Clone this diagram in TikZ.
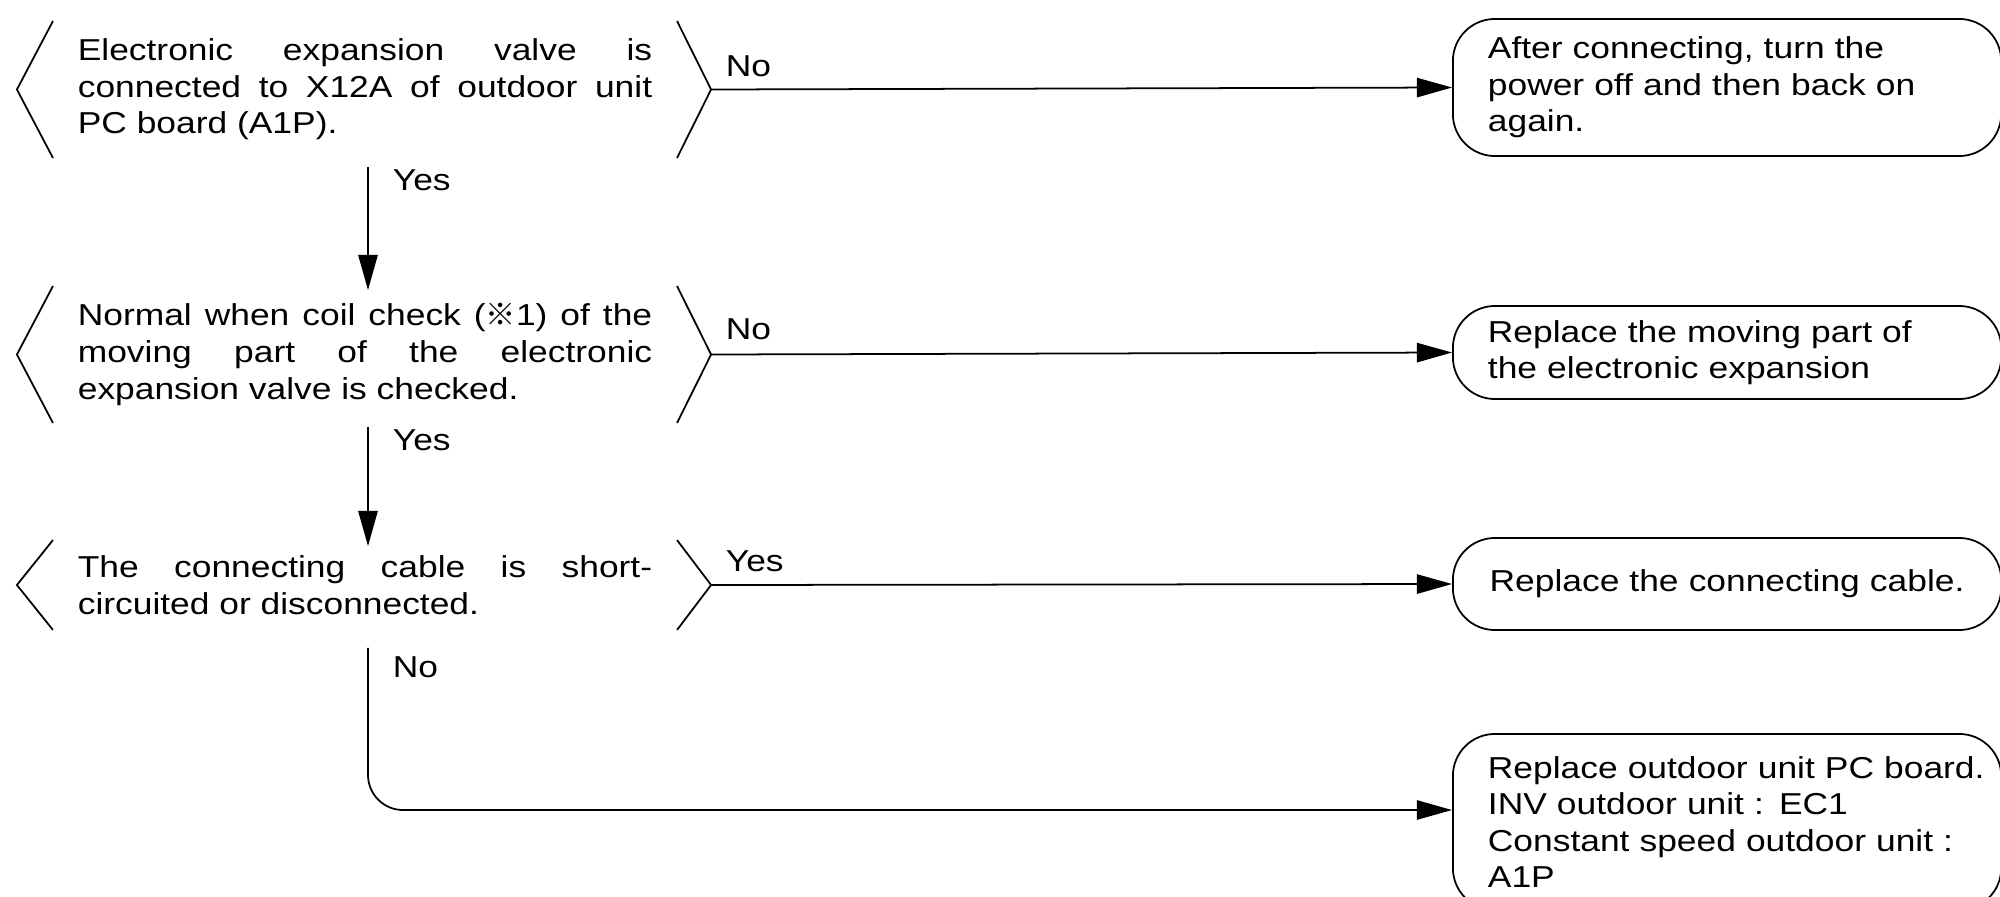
\documentclass[tikz,border=0pt]{standalone}
\usepackage{fontspec}
\setmainfont{Liberation Sans}[FakeStretch=1.17]
\newfontfamily\cjk{Noto Sans CJK JP}
\usetikzlibrary{arrows.meta}
\hbadness=10000

%% open brackets on both sides of a question node
\newcommand\brackets[1]{%
  \draw ([xshift=-0.24cm]#1.north west) -- ([xshift=-0.6cm]#1.west)
     -- ([xshift=-0.24cm]#1.south west);
  \draw ([xshift=0.24cm]#1.north east) -- ([xshift=0.58cm]#1.east)
     coordinate (#1-tip) -- ([xshift=0.24cm]#1.south east);}

\begin{document}
\begin{tikzpicture}[x=0.01cm,y=-0.01cm,line width=0.5pt,
  >={Triangle[length=10pt,width=5.5pt]},
  every node/.style={font=\fontsize{8.6}{10.4}\selectfont},
  query/.style={text width=5.74cm,align=justify,inner sep=0pt,
    minimum height=#1},
  outcome/.style={draw,rounded corners=0.42cm,anchor=west,
    minimum width=5.48cm,inner xsep=0.35cm,text width=4.78cm,
    minimum height=#1,align=left},
  tag/.style={anchor=west,inner sep=0pt}]
\useasboundingbox (0,0) rectangle (2000,897);

%% ---------------- questions ----------------
\node[query=1.35cm] (valve) at (365,89.5)
  {Electronic expansion valve is\linebreak connected to X12A of outdoor
   unit\linebreak PC board (A1P).};
\brackets{valve}
\node[query=1.35cm] (coil) at (365,354.5)
  {Normal when coil check ({\cjk ※}1) of the\linebreak moving part of the
   electronic\linebreak expansion valve is checked.};
\brackets{coil}
\node[query=0.88cm] (cable) at (365,585)
  {The connecting cable is short-\linebreak circuited or disconnected.};
\brackets{cable}

%% ---------------- remedies ----------------
\node[outcome=1.37cm] (reboot) at (1452,87.5)
  {After connecting, turn the\\ power off and then back on\\ again.};
\node[outcome=0.93cm] (moving) at (1452,352.5)
  {Replace the moving part of\\ the electronic expansion};
\node[outcome=0.92cm,align=center] (newcable) at (1452,584)
  {Replace the connecting cable.};
\node[outcome=1.76cm] (board) at (1452,822)
  {\mbox{Replace outdoor unit PC board.}\\ INV outdoor unit : EC1\\
   Constant speed outdoor unit :\\ A1P};
\coordinate (board-in) at ([yshift=0.12cm]board.west);

%% ---------------- flow ----------------
\draw[->] (valve-tip) -- (reboot.west);
\draw[->] (coil-tip) -- (moving.west);
\draw[->] (cable-tip) -- (newcable.west);
\draw[->] ([shift={(3,9)}]valve.south) -- ([shift={(3,4)}]coil.north);
\draw[->] ([shift={(3,4)}]coil.south) -- ([shift={(3,6)}]cable.north);
\draw[->,rounded corners=0.35cm] ([shift={(3,18)}]cable.south)
  |- (board-in);

%% answers
\node[tag] (yes1) at (392,180) {Yes};
\node[tag] (yes2) at (392,440) {Yes};
\node[tag] (no3)  at (392,667) {No};
\node[tag] (no1)  at (725,66)  {No};
\node[tag] (no2)  at (725,329) {No};
\node[tag] (yes3) at (725,561) {Yes};
\end{tikzpicture}
\end{document}
